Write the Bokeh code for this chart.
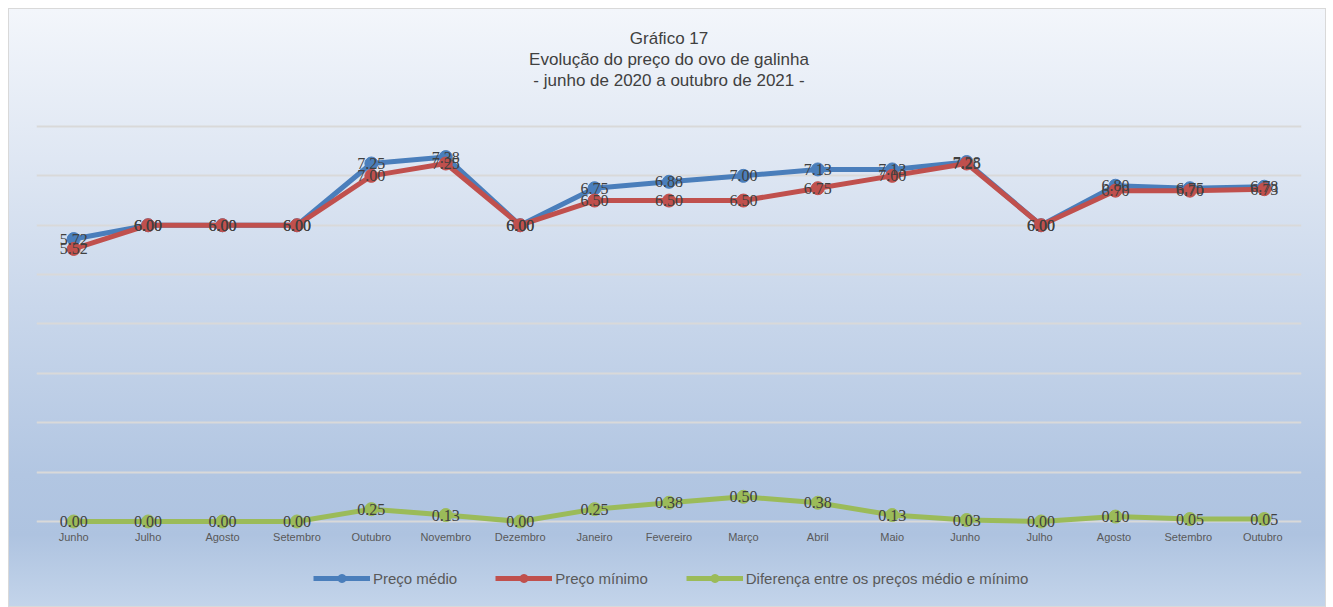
from bokeh.plotting import figure
from bokeh.models import (ColumnDataSource, Range1d, FactorRange, FixedTicker, Title,
                          Legend, LegendItem, LabelSet)
from bokeh.embed import file_html
from bokeh.resources import INLINE

meses = ["Junho", "Julho", "Agosto", "Setembro", "Outubro", "Novembro", "Dezembro",
         "Janeiro", "Fevereiro", "Março", "Abril", "Maio", "Junho ", "Julho ",
         "Agosto ", "Setembro ", "Outubro "]
preco_medio = [5.72, 6.00, 6.00, 6.00, 7.25, 7.38, 6.00, 6.75, 6.88, 7.00, 7.13, 7.13,
               7.28, 6.00, 6.80, 6.75, 6.78]
preco_minimo = [5.52, 6.00, 6.00, 6.00, 7.00, 7.25, 6.00, 6.50, 6.50, 6.50, 6.75, 7.00,
                7.25, 6.00, 6.70, 6.70, 6.73]
diferenca = [0.00, 0.00, 0.00, 0.00, 0.25, 0.13, 0.00, 0.25, 0.38, 0.50, 0.38, 0.13,
             0.03, 0.00, 0.10, 0.05, 0.05]
y_ticks = [0, 1, 2, 3, 4, 5, 6, 7, 8]

titulo = ["Gráfico 17", "Evolução do preço do ovo de galinha",
          "- junho de 2020 a outubro de 2021 -"]
nomes = ["Preço médio", "Preço mínimo", "Diferença entre os preços médio e mínimo"]
cores = ["#4a7ebb", "#c0504d", "#9bbb59"]

src = ColumnDataSource(dict(
    x=meses, medio=preco_medio, minimo=preco_minimo, dif=diferenca,
    medio_t=[f"{v:.2f}" for v in preco_medio],
    minimo_t=[f"{v:.2f}" for v in preco_minimo],
    dif_t=[f"{v:.2f}" for v in diferenca],
))

p = figure(width=1318, height=599, output_backend="svg", toolbar_location=None,
           x_range=FactorRange(*meses, range_padding=0),
           y_range=Range1d(-1.762, 8.749),
           min_border_left=27, min_border_right=26, min_border_top=80, min_border_bottom=0,
           background_fill_alpha=0, border_fill_alpha=0, outline_line_color=None,
           styles={"background": "linear-gradient(to bottom, #f3f6fb 0%, #dfe7f3 25%, #c9d7eb 50%, #b2c6e2 78%, #aec3e0 88%, #c3d4ea 100%)",
                   "border": "1px solid #d9d9d9", "margin-left": "8px", "margin-top": "8px"})

for t in reversed(titulo):
    p.add_layout(Title(text=t, align="center", text_font="Liberation Sans",
                       text_font_size="17px", text_font_style="normal",
                       text_color="#404040", standoff=0), "above")

p.yaxis.visible = False
p.yaxis.ticker = FixedTicker(ticks=y_ticks)
p.ygrid.grid_line_color = "#d9d9d9"
p.ygrid.grid_line_width = 2
p.xgrid.visible = False

p.xaxis.fixed_location = 0
p.xaxis.axis_line_color = None
p.xaxis.major_tick_line_color = None
p.xaxis.minor_tick_line_color = None
p.xaxis.major_label_text_font = "Liberation Sans"
p.xaxis.major_label_text_font_size = "11px"
p.xaxis.major_label_text_color = "#595959"
p.xaxis.major_label_standoff = 4

renderers = []
for col, cor in zip(["medio", "minimo", "dif"], cores):
    l = p.line("x", col, source=src, line_color=cor, line_width=5)
    c = p.scatter("x", col, source=src, size=13, fill_color=cor, line_color=cor)
    renderers.append([l, c])

for col in ["medio", "minimo", "dif"]:
    p.add_layout(LabelSet(x="x", y=col, text=col + "_t", source=src,
                          text_align="center", text_baseline="middle",
                          text_font="Liberation Sans", text_font_size="16px",
                          text_color="#404040"))

legend = Legend(items=[LegendItem(label=n, renderers=r) for n, r in zip(nomes, renderers)],
                orientation="horizontal", location=(277, 20),
                background_fill_alpha=0, border_line_color=None,
                label_text_font="Liberation Sans", label_text_font_size="15px",
                label_text_color="#595959", glyph_width=57, label_standoff=3,
                spacing=38, padding=0, margin=0)
p.add_layout(legend, "center")

open("out.html", "w").write(file_html(p, INLINE))
